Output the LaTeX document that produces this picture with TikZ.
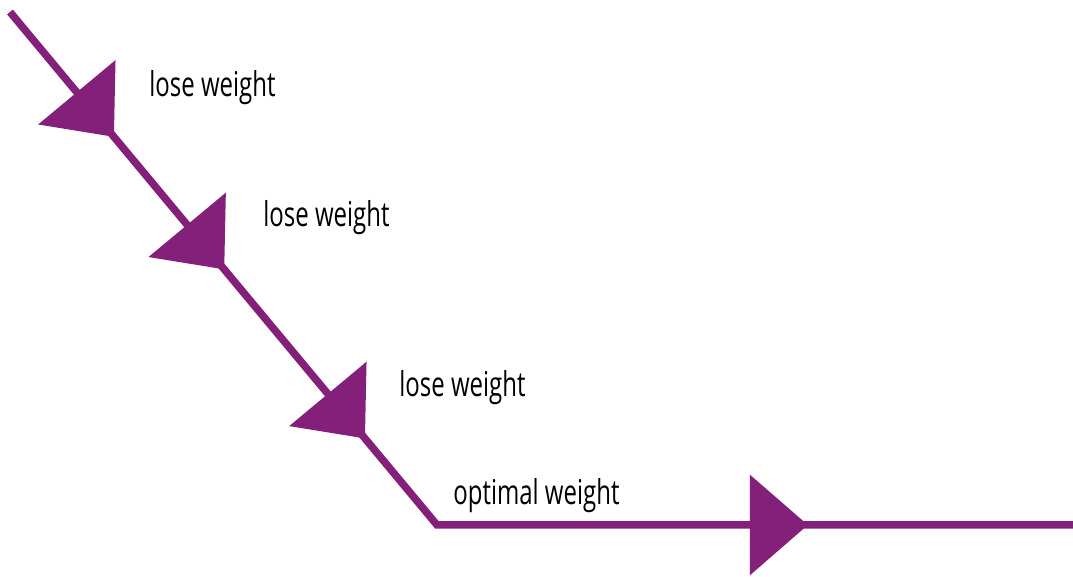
\documentclass[tikz,border=0pt]{standalone}
\usepackage{fontspec}
\setmainfont[FakeStretch=0.70]{Open Sans}
\usepackage{tikz}
\usetikzlibrary{arrows.meta,decorations.markings}
\definecolor{weightpurple}{HTML}{84207A}

\begin{document}
\begin{tikzpicture}[x=0.02cm,y=-0.02cm]

  % Styles
  \tikzstyle{weightpath}=[color=weightpurple,line width=0.15cm,line join=miter,
    >={Triangle[length=1.16cm,width=1.98cm]},
    decoration={markings,
      mark=at position 3.25cm with {\arrow{>}},
      mark=at position 6.7cm with {\arrow{>}},
      mark=at position 11.1cm with {\arrow{>}},
      mark=at position 20.77cm with {\arrow{>}}},
    postaction={decorate}]
  \tikzstyle{weightnote}=[anchor=base west,inner sep=0pt,text=black,font=\fontsize{19.5pt}{23pt}\selectfont]

  % \weightnote{<id>}{<label>}
  \newcommand{\weightnote}[2]{node[weightnote] (#1) {#2}}

  % ===========================================================================

  \useasboundingbox (0,0) rectangle (1073,577);

  % Path points
  \coordinate (start)  at (10,12);
  \coordinate (corner) at (437,525);
  \coordinate (end)    at (1073,525);

  % Draw labels
  \path (149,97)  \weightnote{lose1}{lose weight};
  \path (263,227) \weightnote{lose2}{lose weight};
  \path (399,397) \weightnote{lose3}{lose weight};
  \path (453,505) \weightnote{optimal}{optimal weight};

  % Draw path
  \draw[weightpath] (start) -- (corner) -- (end);

\end{tikzpicture}
\end{document}
